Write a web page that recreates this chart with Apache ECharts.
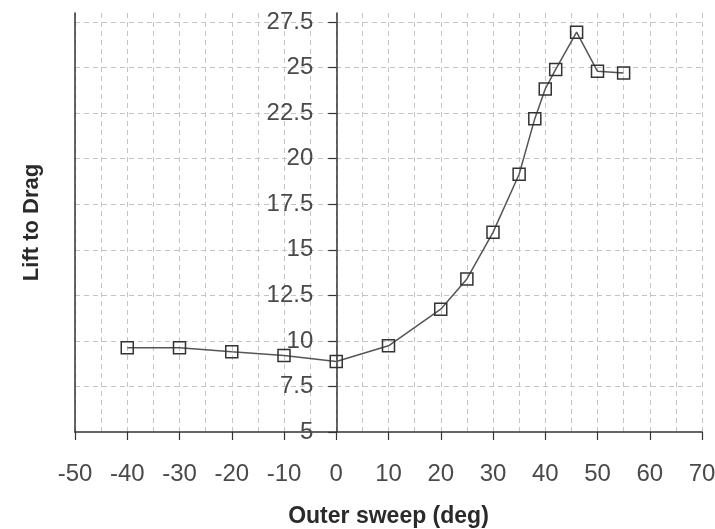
<!DOCTYPE html>
<html>
<head>
<meta charset="utf-8">
<script src="https://cdn.jsdelivr.net/npm/echarts@6/dist/echarts.min.js"></script>
<style>
html, body { margin: 0; padding: 0; background: #fff; }
#chart { width: 715px; height: 529px; }
</style>
</head>
<body>
<div id="chart"></div>
<script>
var sweep = [-40, -30, -20, -10, 0, 10, 20, 25, 30, 35, 38, 40, 42, 46, 50, 55];
var liftToDrag = [9.62, 9.62, 9.4, 9.2, 8.87, 9.73, 11.74, 13.4, 15.96, 19.15, 22.2, 23.83, 24.9, 26.95, 24.8, 24.7];

var xMin = -50, xMax = 70;
var gridLeft = 75, gridRight = 13;

var points = [];
for (var i = 0; i < sweep.length; i++) {
	points.push([sweep[i], liftToDrag[i]]);
}

// the value axis sits at sweep = 0, so shift it in from the left edge
var gridWidth = 715 - gridLeft - gridRight;
var zeroOffset = -(0 - xMin) / (xMax - xMin) * gridWidth;

var gridDash = {
	color : '#c4c4c4',
	type : [5, 4],
	width : 1
};

var myChart = echarts.init(document.getElementById('chart'));
var option = {
	backgroundColor : '#fff',
	animation : false,
	grid : {
		left : gridLeft,
		right : gridRight,
		top : 13,
		bottom : 97,
		outerBoundsMode : 'none'
	},
	xAxis : {
		type : 'value',
		min : xMin,
		max : xMax,
		interval : 10,
		name : 'Outer sweep (deg)',
		nameLocation : 'middle',
		nameGap : 73,
		nameTextStyle : {
			fontFamily : 'Liberation Sans',
			fontWeight : 'bold',
			fontSize : 23,
			color : '#2a2a2a'
		},
		axisLine : {
			onZero : false,
			lineStyle : { color : '#333', width : 1.5 }
		},
		axisTick : {
			length : 8,
			lineStyle : { color : '#333', width : 1.2 }
		},
		axisLabel : {
			margin : 30,
			fontFamily : 'Liberation Sans',
			fontSize : 24,
			color : '#4a4a4a'
		},
		splitLine : {
			show : true,
			lineStyle : gridDash
		},
		minorTick : {
			show : false,
			splitNumber : 2
		},
		minorSplitLine : {
			show : true,
			lineStyle : gridDash
		}
	},
	yAxis : [
		{
			type : 'value',
			position : 'left',
			offset : zeroOffset,
			min : 5,
			max : 28,
			interval : 2.5,
			axisLine : {
				onZero : false,
				lineStyle : { color : '#333', width : 1.5 }
			},
			axisTick : {
				length : 8,
				lineStyle : { color : '#333', width : 1.2 }
			},
			axisLabel : {
				margin : 23,
				showMaxLabel : false,
				fontFamily : 'Liberation Sans',
				fontSize : 24,
				color : '#4a4a4a'
			},
			splitLine : {
				show : true,
				showMinLine : false,
				showMaxLine : false,
				lineStyle : gridDash
			}
		},
		{
			type : 'value',
			position : 'left',
			min : 5,
			max : 28,
			name : 'Lift to Drag',
			nameLocation : 'middle',
			nameGap : 32,
			nameTextStyle : {
				fontFamily : 'Liberation Sans',
				fontWeight : 'bold',
				fontSize : 22,
				color : '#2a2a2a'
			},
			axisLine : {
				show : true,
				onZero : false,
				lineStyle : { color : '#333', width : 1.5 }
			},
			axisTick : { show : false },
			axisLabel : { show : false },
			splitLine : { show : false }
		}
	],
	series : [
		{
			name : 'Lift to Drag',
			type : 'line',
			yAxisIndex : 0,
			data : points,
			symbol : 'rect',
			symbolSize : 12,
			itemStyle : {
				color : 'rgba(255,255,255,0)',
				borderColor : '#333',
				borderWidth : 1.5
			},
			lineStyle : {
				color : '#555',
				width : 1.5
			}
		}
	]
};
myChart.setOption(option);
</script>
</body>
</html>
